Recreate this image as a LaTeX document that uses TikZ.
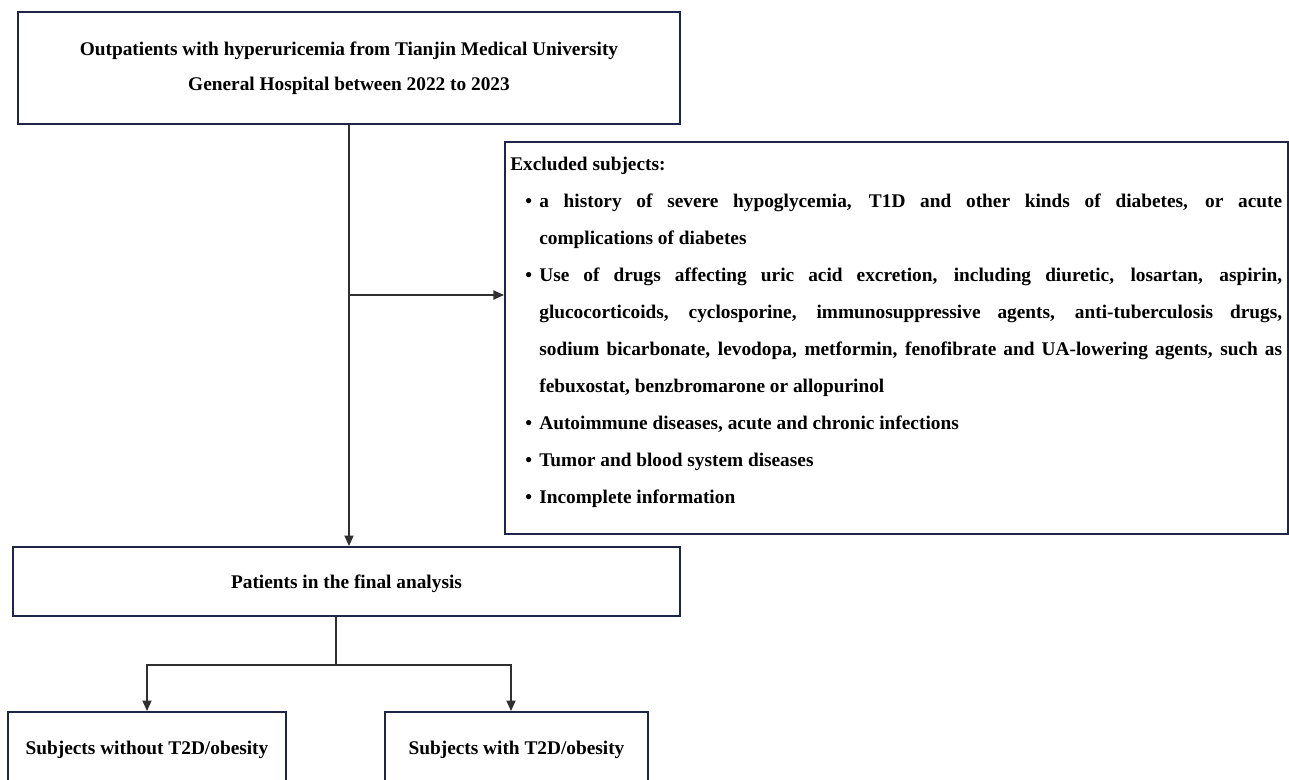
\documentclass[tikz,border=0pt]{standalone}
\usepackage{fontspec}
\setmainfont{Liberation Serif}
\usetikzlibrary{arrows.meta}

\definecolor{boxblue}{HTML}{1F2547}
\definecolor{flowline}{HTML}{303030}

\tikzset{
  box/.style={draw=boxblue, line width=1.1pt, fill=white, align=center,
    inner sep=0pt, font=\fontsize{11}{20}\selectfont\bfseries},
  flow/.style={draw=flowline, line width=0.8pt},
  arr/.style={flow, -{Triangle[length=6pt, width=5.2pt]}}
}

% bullet item with hanging indent
\newcommand{\exitem}[1]{\par\hangindent=0.58cm\hangafter=1\hspace*{0.3cm}\makebox[0.28cm][l]{\textbullet}#1}

\begin{document}
\begin{tikzpicture}[x=0.02cm, y=-0.02cm]
        \clip (0,0) rectangle (1289,779);

        % Boxes
        \node[box, minimum width=13.24cm, minimum height=2.24cm] (top) at (349,68)
            {Outpatients with hyperuricemia from Tianjin Medical University\\General Hospital between 2022 to 2023};
        \node[box, minimum width=13.34cm, minimum height=1.38cm, text depth=0pt] (final) at (346.5,581.5)
            {Patients in the final analysis};
        \node[box, minimum width=5.56cm, minimum height=1.44cm, text depth=0pt] (without) at (147,748)
            {Subjects without T2D/obesity};
        \node[box, minimum width=5.26cm, minimum height=1.44cm, text depth=0pt] (with) at (516.5,748)
            {Subjects with T2D/obesity};

        % Exclusion box
        \node[box, anchor=north west, minimum width=15.66cm, minimum height=7.84cm] (excl) at (504,141) {};
        \node[anchor=north west, align=justify, text width=15.44cm, inner sep=0pt,
              font=\fontsize{11}{21.1}\selectfont\bfseries] (excltext) at (510,156.5)
            {\hyphenpenalty=10000\tolerance=9999\emergencystretch=1cm
             Excluded subjects:
             \exitem{a history of severe hypoglycemia, T1D and other kinds of diabetes, or acute\linebreak complications of diabetes}
             \exitem{Use of drugs affecting uric acid excretion, including diuretic, losartan, aspirin,\linebreak glucocorticoids, cyclosporine, immunosuppressive agents, anti-tuberculosis drugs,\linebreak sodium bicarbonate, levodopa, metformin, fenofibrate and UA-lowering agents, such as\linebreak febuxostat, benzbromarone or allopurinol}
             \exitem{Autoimmune diseases, acute and chronic infections}
             \exitem{Tumor and blood system diseases}
             \exitem{Incomplete information}};

        % Main flow
        \draw[arr] (top.south) -- (top.south |- final.north);
        \coordinate (split) at (349,295);
        \draw[arr] (split) -- (split -| excl.west);

        % Fork to subgroups
        \coordinate (fork) at (336,665);
        \draw[flow] (final.south -| fork) -- (fork);
        \draw[arr] (fork) -| (without.north);
        \draw[arr] (fork) -| ([xshift=-0.11cm]with.north);

    \end{tikzpicture}
\end{document}
